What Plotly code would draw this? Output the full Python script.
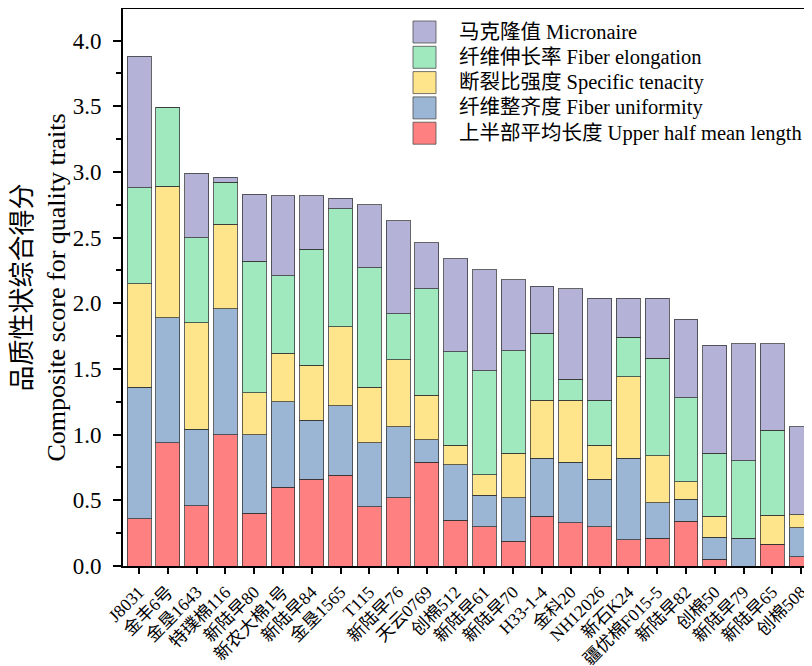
import plotly.graph_objects as go

categories = ["J8031", "金丰6号", "金垦1643", "特璞棉116", "新陆早80", "新农大棉1号",
              "新陆早84", "金垦1565", "T115", "新陆早76", "天云0769", "创棉512",
              "新陆早61", "新陆早70", "H33-1-4", "金科20", "NH12026", "新石K24",
              "疆优棉F015-5", "新陆早82", "创棉50", "新陆早79", "新陆早65", "创棉508"]

upper_half_mean_length = [0.36, 0.94, 0.46, 1.00, 0.40, 0.60, 0.66, 0.69, 0.45, 0.52, 0.79, 0.35,
                          0.30, 0.19, 0.38, 0.33, 0.30, 0.20, 0.21, 0.34, 0.05, 0.00, 0.165, 0.07]
fiber_uniformity = [1.00, 0.95, 0.58, 0.96, 0.60, 0.65, 0.45, 0.53, 0.49, 0.54, 0.17, 0.42,
                    0.24, 0.33, 0.44, 0.46, 0.36, 0.62, 0.27, 0.17, 0.17, 0.21, 0.00, 0.22]
specific_tenacity = [0.79, 1.00, 0.81, 0.64, 0.32, 0.37, 0.42, 0.60, 0.42, 0.51, 0.34, 0.15,
                     0.155, 0.34, 0.44, 0.47, 0.26, 0.62, 0.36, 0.13, 0.16, 0.00, 0.22, 0.10]
fiber_elongation = [0.73, 0.60, 0.65, 0.32, 1.00, 0.59, 0.88, 0.90, 0.91, 0.35, 0.81, 0.71,
                    0.79, 0.78, 0.51, 0.16, 0.34, 0.30, 0.74, 0.64, 0.48, 0.59, 0.65, 0.00]
micronaire = [1.00, 0.00, 0.49, 0.04, 0.51, 0.61, 0.41, 0.08, 0.48, 0.71, 0.35, 0.71,
              0.77, 0.54, 0.36, 0.69, 0.78, 0.30, 0.46, 0.60, 0.82, 0.89, 0.655, 0.67]

series = [
    ("上半部平均长度 Upper half mean length", upper_half_mean_length, "#FF8080"),
    ("纤维整齐度 Fiber uniformity", fiber_uniformity, "#9AB6D4"),
    ("断裂比强度 Specific tenacity", specific_tenacity, "#FEE58C"),
    ("纤维伸长率 Fiber elongation", fiber_elongation, "#A0E8BE"),
    ("马克隆值 Micronaire", micronaire, "#B4B2D6"),
]

serif = "Liberation Serif, Times New Roman, Noto Sans CJK SC, serif"

# page body has an 8px default margin; size the figure so the plot lands where the reference has it
OFF = 8
W, H = 812 - OFF, 666 - OFF
PLOT_L, PLOT_R, PLOT_T, PLOT_B = 123, 812, 9, 566  # plot area in page pixels
ML, MR, MT, MB = PLOT_L - OFF, (W + OFF) - PLOT_R, PLOT_T - OFF, (H + OFF) - PLOT_B
PW, PH = PLOT_R - PLOT_L, PLOT_B - PLOT_T


def px_x(x):
    return (x - PLOT_L) / PW


def px_y(y):
    return (PLOT_B - y) / PH


fig = go.Figure()
for name, vals, color in series:
    fig.add_trace(go.Bar(
        x=categories, y=vals, name=name, showlegend=False,
        marker=dict(color=color, line=dict(color="rgba(50,50,50,0.75)", width=1)),
    ))

# legend drawn as boxes + real text (top entry = top of stack)
row0, row_step = 32, 25.3
for i, (name, vals, color) in enumerate(reversed(series)):
    cy = row0 + i * row_step
    fig.add_shape(type="rect", xref="paper", yref="paper",
                  x0=px_x(413), x1=px_x(436), y0=px_y(cy + 11), y1=px_y(cy - 11),
                  fillcolor=color, line=dict(color="rgba(80,80,80,0.8)", width=1))
    fig.add_annotation(xref="paper", yref="paper", x=px_x(457), y=px_y(cy),
                       xanchor="left", yanchor="middle", showarrow=False,
                       text=name, font=dict(size=20.5, family=serif, color="black"))

fig.update_layout(
    barmode="stack",
    bargap=0.17,
    width=W, height=H,
    margin=dict(l=ML, r=MR, t=MT, b=MB),
    plot_bgcolor="white", paper_bgcolor="white",
    font=dict(family=serif, color="black"),
    showlegend=False,
)

fig.update_xaxes(
    range=[-0.56, 23.38],
    automargin=False,
    showline=True, linecolor="black", linewidth=2, mirror=True,
    ticks="outside", ticklen=6, tickwidth=2, tickcolor="black",
    tickangle=-45,
    ticklabelstandoff=1,
    tickfont=dict(size=17.5, family=serif, color="black"),
    showgrid=False, zeroline=False,
)

fig.update_yaxes(
    range=[0, 4.24],
    automargin=False,
    tickmode="array",
    tickvals=[0, 0.5, 1.0, 1.5, 2.0, 2.5, 3.0, 3.5, 4.0],
    ticktext=["0.0", "0.5", "1.0", "1.5", "2.0", "2.5", "3.0", "3.5", "4.0"],
    showline=True, linecolor="black", linewidth=2, mirror=False,
    ticks="outside", ticklen=8, tickwidth=2, tickcolor="black",
    ticklabelstandoff=7,
    minor=dict(tickvals=[0.25, 0.75, 1.25, 1.75, 2.25, 2.75, 3.25, 3.75],
               ticks="outside", ticklen=5, tickwidth=2, tickcolor="black"),
    tickfont=dict(size=23, family=serif, color="black"),
    showgrid=False, zeroline=False,
    title=dict(text="品质性状综合得分<br>Composite score for quality traits",
               font=dict(size=26, family=serif, color="black"), standoff=6),
)

fig.write_html("out.html")
